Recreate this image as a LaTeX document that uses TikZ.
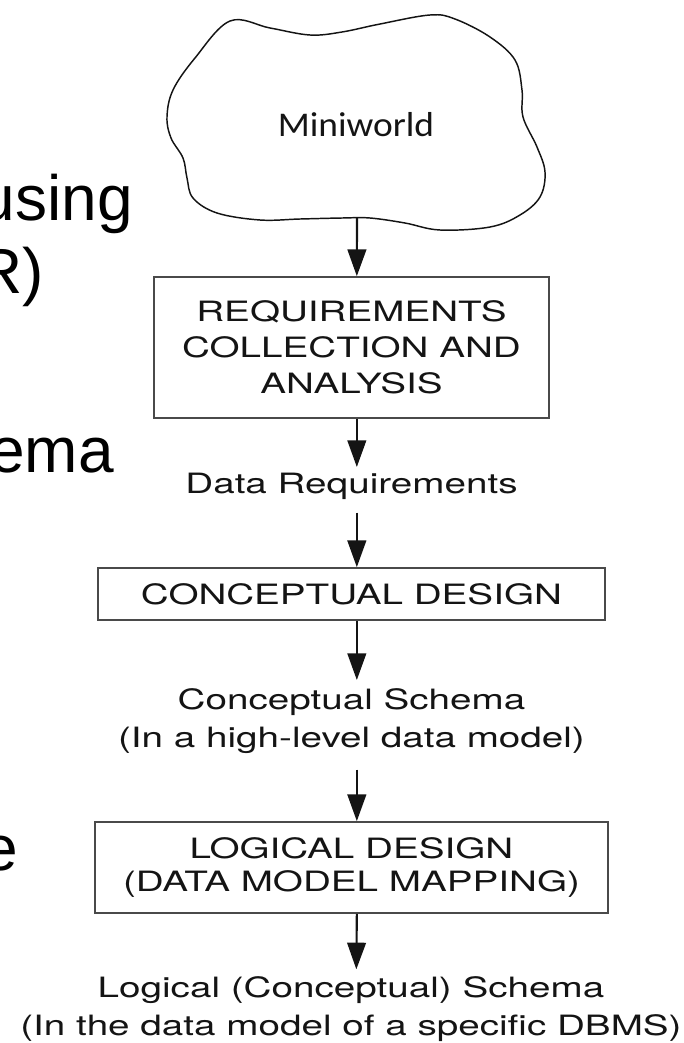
\documentclass[tikz,border=0pt]{standalone}
\usepackage{fontspec}
\usetikzlibrary{arrows.meta}
\newfontfamily\diafont[FakeStretch=1.38]{TeX Gyre Heros}
\newfontfamily\cloudfont[FakeStretch=1.08]{Carlito}
\newfontfamily\slidefont{Liberation Sans}
\definecolor{inkgray}{HTML}{141414}
\definecolor{boxgray}{HTML}{4A4A4A}
\tikzset{
  stage/.style={draw=boxgray, line width=1.3pt, align=center, text=inkgray,
    font=\diafont\fontsize{21}{27}\selectfont},
  result/.style={align=center, inner sep=0pt, text=inkgray,
    font=\diafont\fontsize{21}{28.5}\selectfont},
  flow/.style={draw=inkgray, line width=1.6pt, -{Triangle[length=20pt,width=14pt]}},
  slide/.style={anchor=base east, inner sep=0pt, font=\slidefont\fontsize{48}{58}\selectfont}
}
\begin{document}
\begin{tikzpicture}[x=0.75pt,y=-0.75pt]
\clip (0,0) rectangle (684,1043);
% cut-off words of the slide text
\node[slide] (w1) at (133,220) {using};
\node[slide] (w2) at (44,293) {R)};
\node[slide] (w3) at (114,472) {ema};
\node[slide] (w4) at (18,870) {e};
% miniworld cloud
\draw[draw=inkgray, line width=1.1pt] plot[smooth cycle, tension=0.6] coordinates {
  (430,15) (455,19) (490,37) (515,60) (522,90) (523,117) (537,147) (545,172)
  (540,197) (520,215) (490,227) (440,230) (405,223) (370,218) (342,218)
  (300,219) (260,220) (217,213) (193,198) (187,178) (183,158) (171,138)
  (167,117) (173,90) (195,58) (230,21) (270,28) (310,35) (342,32) (380,24)};
\node[text=inkgray, font=\cloudfont\fontsize{26}{30}\selectfont] (mini) at (356,125) {Miniworld};
\coordinate (cloudbot) at (357,217);
% stages and their results
\node[stage, minimum width=296pt, minimum height=105.75pt] (req) at (351.5,347.5)
  {REQUIREMENTS\\COLLECTION AND\\ANALYSIS};
\node[result, anchor=base] (dreq) at (351.5,493) {Data Requirements};
\node[stage, minimum width=380.25pt, minimum height=39pt] (concept) at (351.5,594)
  {CONCEPTUAL DESIGN};
\node[result, anchor=north] (cschema) at (351.5,688)
  {Conceptual Schema\\(In a high-level data model)};
\node[stage, minimum width=384.75pt, minimum height=68.25pt,
  font=\diafont\fontsize{21}{25}\selectfont] (logic) at (351.5,867.5)
  {LOGICAL DESIGN\\(DATA MODEL MAPPING)};
\node[result, anchor=north, font=\diafont\fontsize{21}{29}\selectfont] (lschema) at (351,976)
  {Logical (Conceptual) Schema\\(In the data model of a specific DBMS)};
% arrows
\draw[flow] (cloudbot) -- ([xshift=4pt]req.north);
\draw[flow] ([xshift=4pt]req.south) -- ([xshift=4pt,yshift=4pt]dreq.north);
\draw[flow] ([xshift=4pt,yshift=-10pt]dreq.south) -- ([xshift=4pt]concept.north);
\draw[flow] ([xshift=4pt]concept.south) -- ([xshift=4pt,yshift=6pt]cschema.north);
\draw[flow] ([xshift=4pt,yshift=-12pt]cschema.south) -- ([xshift=4pt]logic.north);
\draw[flow] ([xshift=4pt]logic.south) -- ([xshift=4pt,yshift=5pt]lschema.north);
\end{tikzpicture}
\end{document}
